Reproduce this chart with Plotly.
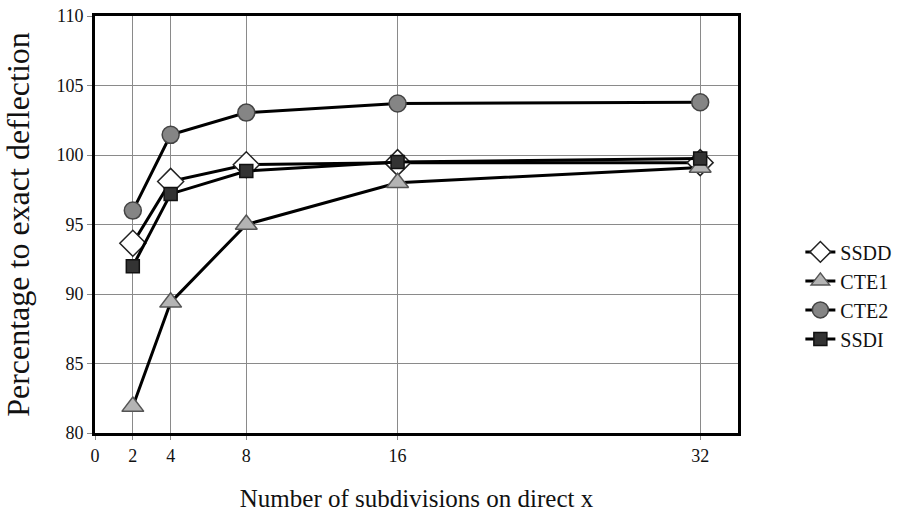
import plotly.graph_objects as go

x_vals = [2, 4, 8, 16, 32]
ssdd = [93.65, 98.1, 99.3, 99.45, 99.45]
cte1 = [81.9, 89.4, 95.0, 98.0, 99.1]
cte2 = [96.0, 101.45, 103.05, 103.7, 103.8]
ssdi = [92.0, 97.2, 98.85, 99.5, 99.75]

x_ticks = [0, 2, 4, 8, 16, 32]
y_ticks = [80, 85, 90, 95, 100, 105, 110]

FONT = "Liberation Serif"

series = [
    ("SSDD", ssdd, "diamond", 20, "#ffffff", "#222222"),
    ("CTE1", cte1, "triangle-up", 19, "#b4b4b4", "#555555"),
    ("CTE2", cte2, "circle", 17, "#858585", "#444444"),
    ("SSDI", ssdi, "square", 13, "#333333", "#111111"),
]

fig = go.Figure()
for name, vals, sym, size, fill, edge in series:
    fig.add_trace(go.Scatter(
        x=x_vals, y=vals, name=name, mode="lines+markers",
        line=dict(color="#000000", width=3),
        marker=dict(symbol=sym, size=size, color=fill,
                    line=dict(color=edge, width=1.5)),
    ))

fig.update_layout(
    width=909, height=512,
    margin=dict(l=95, r=166, t=16, b=79),
    plot_bgcolor="#ffffff", paper_bgcolor="#ffffff",
    font=dict(family=FONT, size=18, color="#111111"),
    legend=dict(x=1.097, y=0.33, xanchor="left", yanchor="middle",
                font=dict(family=FONT, size=20, color="#111111"),
                tracegroupgap=0, bgcolor="rgba(0,0,0,0)"),
    showlegend=True,
)
fig.update_xaxes(
    range=[0, 34], tickmode="array", tickvals=x_ticks,
    ticktext=[str(t) for t in x_ticks],
    showgrid=True, gridcolor="#8a8a8a", gridwidth=1,
    showline=True, linecolor="#000000", linewidth=3, mirror=True,
    ticks="outside", ticklen=4, tickcolor="#8a8a8a",
    zeroline=False, automargin=False,
    title=dict(text="Number of subdivisions on direct x",
               font=dict(family=FONT, size=25), standoff=26),
)
fig.update_yaxes(
    range=[80, 110], tickmode="array", tickvals=y_ticks,
    ticktext=[str(t) for t in y_ticks],
    showgrid=True, gridcolor="#8a8a8a", gridwidth=1,
    showline=True, linecolor="#000000", linewidth=3, mirror=True,
    ticks="outside", ticklen=5, tickcolor="#8a8a8a",
    zeroline=False, automargin=False,
    title=dict(text="Percentage to exact deflection",
               font=dict(family=FONT, size=32), standoff=18),
)

fig.write_html(
    "out.html",
    config={"displayModeBar": False},
    post_script="document.body.style.margin='0';document.body.style.overflow='hidden';",
)
